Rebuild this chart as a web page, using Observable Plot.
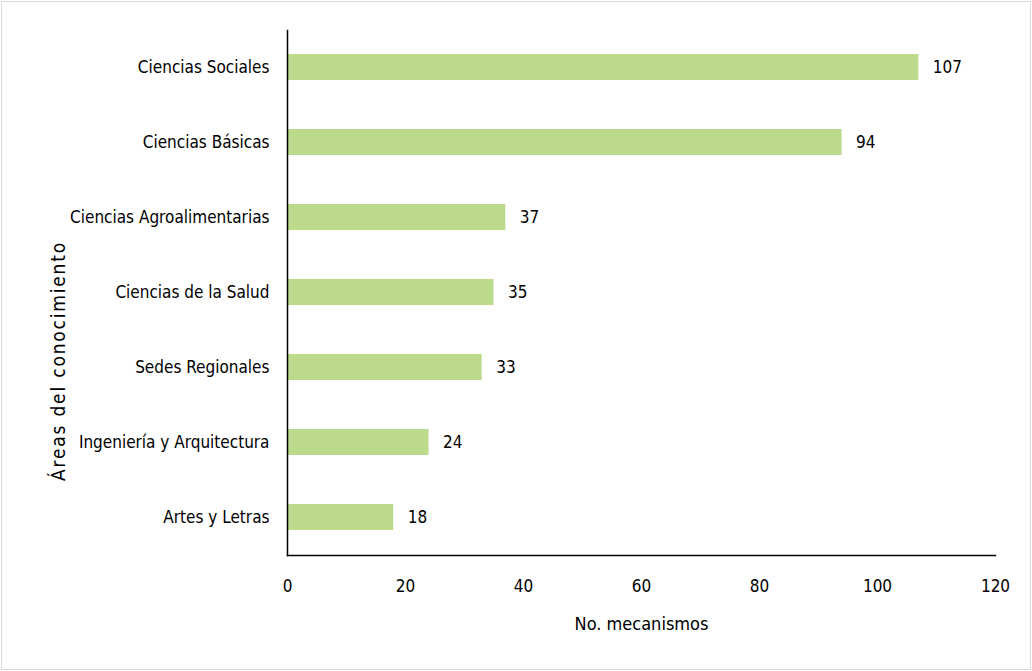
<!DOCTYPE html>
<html>
<head>
<meta charset="utf-8">
<script src="https://cdn.jsdelivr.net/npm/d3@7"></script>
<script src="https://cdn.jsdelivr.net/npm/@observablehq/plot@0.6"></script>
<style>
  html, body { margin: 0; padding: 0; background: #fff; }
  #chart svg { display: block; outline: 1px solid #d9d9d9; outline-offset: -2px; }
</style>
</head>
<body>
<div id="chart"></div>
<script>
const areas = [
  "Ciencias Sociales",
  "Ciencias Básicas",
  "Ciencias Agroalimentarias",
  "Ciencias de la Salud",
  "Sedes Regionales",
  "Ingeniería y Arquitectura",
  "Artes y Letras"
];
const mecanismos = [107, 94, 37, 35, 33, 24, 18];
const xTicks = [0, 20, 40, 60, 80, 100, 120];
const xLabel = "No. mecanismos";
const yLabel = "Áreas del conocimiento";

const data = areas.map((a, i) => ({area: a, value: mecanismos[i]}));
const FONT = "'Liberation Sans Narrow', 'Arial Narrow', 'DejaVu Sans Condensed', sans-serif";

const chart = Plot.plot({
  width: 1032,
  height: 671,
  marginLeft: 287,
  marginRight: 37,
  marginTop: 30,
  marginBottom: 116,
  style: {fontFamily: FONT, fontSize: "17px", color: "#000", background: "#fff"},
  x: {domain: [0, 120], ticks: xTicks},
  y: {domain: areas, paddingInner: 0.65, paddingOuter: 0.325},
  marks: [
    Plot.barX(data, {x: "value", y: "area", fill: "#bbda8c"}),
    Plot.text(data, {x: "value", y: "area", text: d => String(d.value), textAnchor: "start", dx: 14, fontSize: 17, fill: "#000"}),
    Plot.axisX({ticks: xTicks, tickSize: 0, tickPadding: 24, label: null, fontSize: 17}),
    Plot.axisY({tickSize: 0, tickPadding: 18, label: null, fontSize: 17}),
    Plot.frame({anchor: "left", stroke: "#000", strokeWidth: 1.5}),
    Plot.frame({anchor: "bottom", stroke: "#000", strokeWidth: 1.5}),
    Plot.text([xLabel], {frameAnchor: "bottom", dy: 74, fontSize: 18, fill: "#000"}),
    Plot.text([yLabel], {frameAnchor: "left", textAnchor: "middle", rotate: -90, dx: -229, dy: 68, fontSize: 19, fill: "#000"})
  ]
});
d3.select(chart).selectAll("text").filter(function() { return this.textContent === yLabel; })
  .style("letter-spacing", "1.8px");
document.getElementById("chart").appendChild(chart);
</script>
</body>
</html>
